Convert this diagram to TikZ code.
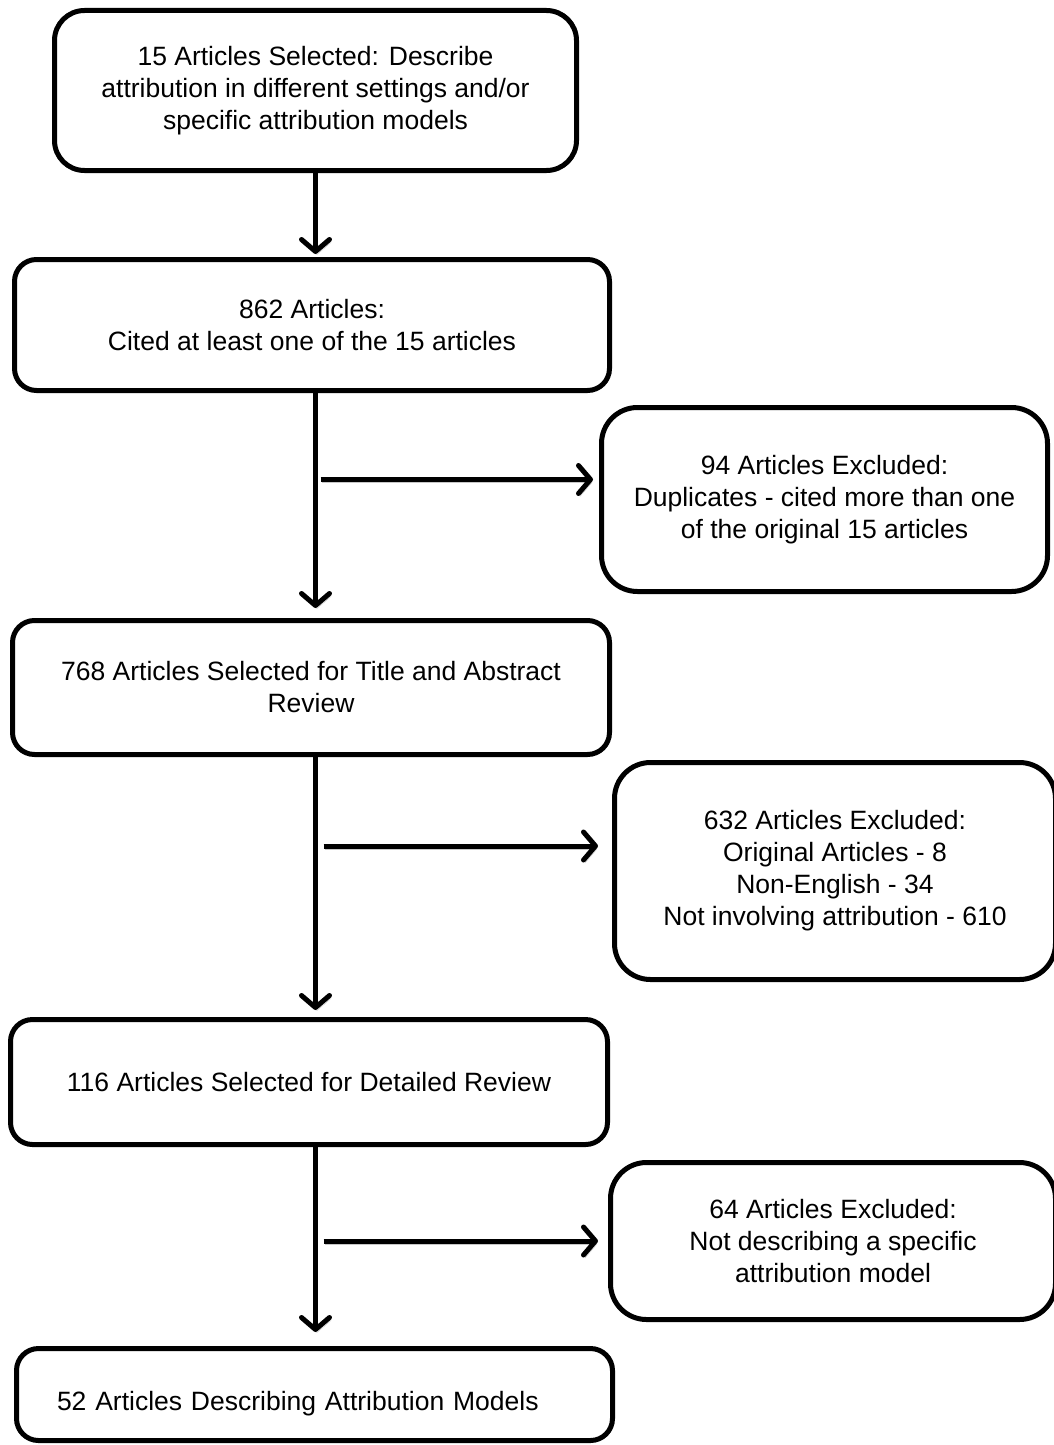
\documentclass[tikz,border=0pt]{standalone}
\usepackage{fontspec}
\setmainfont{Liberation Sans}
\usetikzlibrary{arrows.meta}
\usetikzlibrary{calc}
\tikzstyle{every node}=[draw, line width=5pt, align=center, inner sep=0pt, font=\fontsize{26.5pt}{32pt}\selectfont]
\tikzset{box/.style={rounded corners=22pt}}
\tikzset{exbox/.style={rounded corners=36pt}}
\tikzset{arr/.style={line width=5pt, -{Straight Barb[length=12pt,width=28pt,line width=5pt,round]},
      preaction={draw=black!22, transform canvas={shift={(1.5pt,-3pt)}}}}}

\begin{document}
\begin{tikzpicture}[x=1pt,y=-1pt]
		\useasboundingbox (0,0) rectangle (1054,1445);
		\node[box, rounded corners=30pt, minimum width=522pt, minimum height=160pt] (start) at (315.5,90.5) {15 Articles Selected: Describe\\attribution in different settings and/or\\specific attribution models};
		\node[box, minimum width=595pt, minimum height=131pt] (cited) at (312,325) {862 Articles:\\Cited at least one of the 15 articles};
		\node[exbox, minimum width=446pt, minimum height=184pt] (dup) at (824.5,499.5) {94 Articles Excluded:\\Duplicates - cited more than one\\of the original 15 articles};
		\node[box, minimum width=597pt, minimum height=134pt] (title) at (311,687.5) {768 Articles Selected for Title and Abstract\\Review};
		\node[exbox, minimum width=441pt, minimum height=217pt] (nonrel) at (835,871) {632 Articles Excluded:\\Original Articles - 8\\Non-English - 34\\Not involving attribution - 610};
		\node[box, minimum width=597pt, minimum height=125pt] (detail) at (309,1082) {116 Articles Selected for Detailed Review};
		\node[exbox, minimum width=445pt, minimum height=157pt] (nomodel) at (833,1241) {64 Articles Excluded:\\Not describing a specific\\attribution model};
		\node[box, minimum width=596pt, minimum height=92pt, text width=515pt, align=left] (final) at (314.5,1394.5) {\raisebox{-9pt}[\height][\depth]{52 Articles Describing Attribution Models}};
		% main line
		\draw[arr, shorten >=3pt] (start.south) -- (start.south |- cited.north);
		\draw[arr, shorten >=10pt] (start.south |- cited.south) -- (start.south |- title.north);
		\draw[arr, shorten >=7pt] (start.south |- title.south) -- (start.south |- detail.north);
		\draw[arr, shorten >=14pt] (start.south |- detail.south) -- (start.south |- final.north);
		% exclusions
		\draw[arr, shorten >=6pt] ($(start.south |- dup.west)+(5,-20)$) -- ($(dup.west)+(0,-20)$);
		\draw[arr, shorten >=14pt] ($(start.south |- nonrel.west)+(8,-25)$) -- ($(nonrel.west)+(0,-25)$);
		\draw[arr, shorten >=10pt] ($(start.south |- nomodel.west)+(8,0)$) -- (nomodel.west);
\end{tikzpicture}
\end{document}
